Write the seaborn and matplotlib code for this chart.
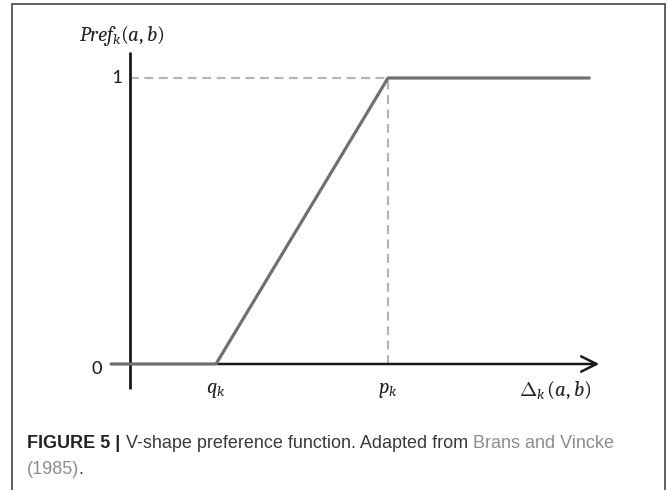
import matplotlib
matplotlib.use("Agg")
import matplotlib.pyplot as plt
import seaborn as sns
import pandas as pd
from matplotlib.patches import Rectangle
from matplotlib import font_manager

# Data (arbitrary units: q_k = 0.5, p_k = 1.5)
pref_x = [-0.11, 0.5, 1.5, 2.67]
pref_y = [0.0, 0.0, 1.0, 1.0]
tick_labels_x = [r"$q_k$", r"$p_k$"]
tick_pos_x = [0.5, 1.5]
tick_labels_y = ["0", "1"]
tick_pos_y = [0.0, 1.0]

sns.set_style("white")
installed = {f.name for f in font_manager.fontManager.ttflist}
if "Caladea" in installed:
    plt.rcParams["mathtext.fontset"] = "custom"
    plt.rcParams["mathtext.it"] = "Caladea:italic"
    plt.rcParams["mathtext.rm"] = "Caladea"
    plt.rcParams["mathtext.bf"] = "Caladea:bold"
else:
    plt.rcParams["mathtext.fontset"] = "stix"

num_font = [f for f in ["Carlito"] if f in installed] + ["Liberation Sans", "DejaVu Sans"]
cap_font = ["Liberation Sans", "DejaVu Sans"]

W, H = 667, 490
fig = plt.figure(figsize=(W / 100, H / 100), dpi=100)
ax = fig.add_axes([0, 0, 1, 1])
ax.set_axis_off()

x0px, unitx = 130, 172.0
y0px, unity = 364, 286.0
ax.set_xlim((0 - x0px) / unitx, (W - x0px) / unitx)
ax.set_ylim((y0px - H) / unity, (y0px - 0) / unity)

def px(xp):
    return (xp - x0px) / unitx

def py(yp):
    return (y0px - yp) / unity

# guide dashes
ax.plot([0, 1.5], [1, 1], color="#b5b5b5", lw=1.6, ls=(0, (4, 2.5)), zorder=1)
ax.plot([1.5, 1.5], [0, 1], color="#b5b5b5", lw=1.6, ls=(0, (4, 2.5)), zorder=1)

# axes
ax.plot([0, 0], [py(389), py(52)], color="#1a1a1a", lw=2.0, zorder=2, solid_capstyle="butt")
ax.annotate("", xy=(px(602), 0), xytext=(px(215), 0),
            arrowprops=dict(arrowstyle="->,head_length=1.1,head_width=0.55",
                            color="#1a1a1a", lw=1.8), zorder=2)

# preference function
df = pd.DataFrame({"x": pref_x, "y": pref_y})
sns.lineplot(data=df, x="x", y="y", ax=ax, color="#707070", lw=2.3, sort=False,
             estimator=None, zorder=3)
ax.set_axis_off()

# labels
ax.text(px(116), tick_pos_y[1], tick_labels_y[1], ha="center", va="center", fontsize=15,
        color="#222222", family=num_font)
ax.text(px(97), py(368), tick_labels_y[0], ha="center", va="center", fontsize=15,
        color="#222222", family=num_font)
for lab, xp in zip(tick_labels_x, tick_pos_x):
    ax.text(xp, py(390), lab, ha="center", va="center", fontsize=15, color="#222222")
ax.text(px(555), py(390), r"$\Delta_k\,(a,b)$", ha="center", va="center", fontsize=15,
        color="#222222")
ax.text(px(122), py(36), r"$Pref_k(a,b)$", ha="center", va="center", fontsize=15,
        color="#222222")

# caption
r = fig.canvas.get_renderer()
y1, y2 = 1 - 443 / H, 1 - 469 / H

def draw_caption(fs):
    arts = []
    t1 = fig.text(27 / W, y1, "FIGURE 5 |", fontsize=fs, fontweight="bold",
                  family=cap_font, color="#222222", va="center", ha="left")
    arts.append(t1)
    bb = t1.get_window_extent(r)
    t2 = fig.text(bb.x1 / W + 6 / W, y1, "V-shape preference function. Adapted from ",
                  fontsize=fs, family=cap_font, color="#3a3a3a", va="center", ha="left")
    arts.append(t2)
    bb2 = t2.get_window_extent(r)
    t3 = fig.text(bb2.x1 / W, y1, "Brans and Vincke", fontsize=fs, family=cap_font,
                  color="#8c8c8c", va="center", ha="left")
    arts.append(t3)
    t4 = fig.text(27 / W, y2, "(1985)", fontsize=fs, family=cap_font,
                  color="#8c8c8c", va="center", ha="left")
    arts.append(t4)
    bb4 = t4.get_window_extent(r)
    t5 = fig.text((bb4.x1 - 1) / W, y2, ".", fontsize=fs, family=cap_font,
                  color="#3a3a3a", va="center", ha="left")
    arts.append(t5)
    return arts, t3.get_window_extent(r).x1

fs = 12.0
arts, right = draw_caption(fs)
fs2 = fs * (617.0 - 27) / (right - 27)
for a in arts:
    a.remove()
draw_caption(fs2)

# frame
fig.patches.append(Rectangle((12 / W, -0.05), (665 - 12) / W, 1.05 - 4 / H,
                             transform=fig.transFigure, fill=False,
                             edgecolor="#555555", lw=1.3))

fig.savefig("out.png", dpi=100)
